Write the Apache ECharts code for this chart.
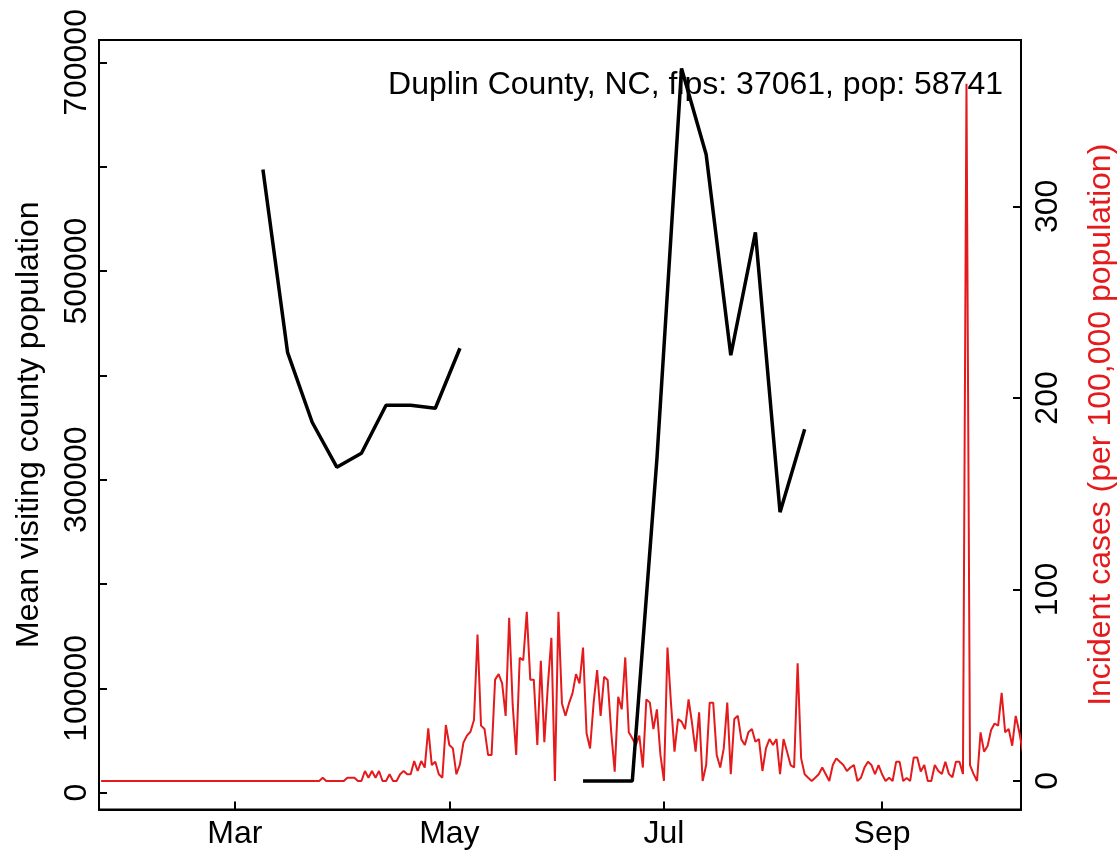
<!DOCTYPE html>
<html>
<head>
<meta charset="utf-8">
<script src="https://cdn.jsdelivr.net/npm/echarts@6/dist/echarts.min.js"></script>
<style>
html,body{margin:0;padding:0;background:#ffffff;}
#chart{width:1119px;height:854px;}
</style>
</head>
<body>
<div id="chart"></div>
<script>
// ---------------- data ----------------
const titleText = 'Duplin County, NC, fips: 37061, pop: 58741';
const leftAxisName = 'Mean visiting county population';
const rightAxisName = 'Incident cases (per 100,000 population)';

const xTickDates = ['2020-03-01', '2020-05-01', '2020-07-01', '2020-09-01'];
const xTickLabels = ['Mar', 'May', 'Jul', 'Sep'];

const leftTicks = [0, 100000, 200000, 300000, 400000, 500000, 600000, 700000];
const leftTickLabels = [0, 100000, 300000, 500000, 700000];
const rightTicks = [0, 100, 200, 300];

// weekly mean visiting county population (black)
const visitDates = [
  '2020-03-09', '2020-03-16', '2020-03-23', '2020-03-30', '2020-04-06', '2020-04-13',
  '2020-04-20', '2020-04-27', '2020-05-04', '2020-05-11', '2020-05-18', '2020-05-25',
  '2020-06-01', '2020-06-08', '2020-06-15', '2020-06-22', '2020-06-29', '2020-07-06',
  '2020-07-13', '2020-07-20', '2020-07-27', '2020-08-03', '2020-08-10'
];
const visitValues = [
  597400, 422100, 355100, 312000, 325400, 371400,
  371400, 368500, 426000, null, null, null,
  null, 11200, 11200, 11200, 320000, 694200,
  611800, 419300, 537100, 268900, 348400
];

// daily incident cases per 100,000 (red), one value per day from caseStartDate
const caseStartDate = '2020-01-23';
const caseValues = [
  0,0,0,0,0,0,0,0,0,0, 0,0,0,0,0,0,0,0,0,0,
  0,0,0,0,0,0,0,0,0,0, 0,0,0,0,0,0,0,0,0,0,
  0,0,0,0,0,0,0,0,0,0, 0,0,0,0,0,0,0,0,0,0,
  0,0,0,
  1.7, 0,0,0,0,0,0,
  1.7, 1.7, 1.7, 0, 0,
  5.2, 1.7, 5.2, 1.7, 5.2,
  0, 0, 3.5, 0, 0,
  3.5, 5.2, 3.5, 3.5, 10.4,
  5.2, 10.4, 7, 27.5, 8.3,
  10, 3.5, 1.7, 29.2, 18.8,
  17, 3.5, 8.7, 20, 23.7,
  25.7, 31.8, 76.5, 28.9, 27.1,
  13.6, 13.6, 52.9, 55.8, 51,
  34, 85.2, 39.7, 13.6, 64.3,
  63.1, 88.3, 52.9, 52.9, 18.8,
  62.8, 20.2, 49.7, 74.8, 0,
  88.3, 40.5, 34, 40.5, 45.7,
  55.8, 51, 69.7, 24.9, 17,
  40.5, 57.9, 34, 54.4, 52.7,
  25.7, 4.9, 44, 37.4, 64.5,
  25.4, 22.3, 18.8, 23.7, 7,
  42.6, 40.9, 27.1, 37.4, 13.6,
  0, 69.7, 40.5, 15.3, 32.3,
  31, 27.1, 42.6, 30, 15.3,
  35.8, 0, 8.3, 40.9, 40.9,
  13.6, 7, 17, 40.9, 3.5,
  32.3, 34, 21.7, 18.8, 25.4,
  27.1, 20.5, 21.9, 5.2, 17,
  21.9, 18.8, 21.9, 3.5, 21.9,
  15.3, 8.3, 7, 61.4, 11.8,
  3.5, 1.7, 0, 1.7, 3.5,
  7, 3.5, 0, 8.3, 11.8,
  10, 8.3, 5.2, 7, 8.3,
  0, 1.7, 7, 10, 8.3,
  3.5, 8.3, 3.5, 0, 1.7,
  0, 10, 10, 0, 1.5,
  0, 12.2, 12.2, 4.9, 8.3,
  0, 0, 8.3, 5.2, 3.7,
  10, 3.7, 1.9, 10, 10,
  3.7, 364, 8.3, 3.7, 0,
  25.4, 15.3, 18.3, 26.6, 30,
  28.9, 46, 25.4, 27.1, 18.4,
  34, 25.7, 15.3
];

// ---------------- build ----------------
const DAY = 86400000;
const t0 = Date.parse(caseStartDate);
const caseData = caseValues.map((v, i) => [t0 + i * DAY, v]);
const visitData = visitDates.map((d, i) => [Date.parse(d), visitValues[i]]);
const xTickTimes = xTickDates.map(d => Date.parse(d));

const FONT = "'Liberation Sans', Arial, Helvetica, sans-serif";
const RED = '#e41a1c';
const xMin = Date.parse('2020-01-22') + 0.4 * DAY;
const xMax = Date.parse('2020-01-22') + 262.5 * DAY;

const chart = echarts.init(document.getElementById('chart'), null, {renderer: 'canvas'});
chart.setOption({
  animation: false,
  backgroundColor: '#ffffff',
  textStyle: {fontFamily: FONT},
  title: {
    text: titleText,
    right: 116,
    top: 69,
    padding: 0,
    textStyle: {fontFamily: FONT, fontSize: 32, fontWeight: 'normal', color: '#000'}
  },
  grid: {
    left: 99, right: 98, top: 40, bottom: 44.5,
    containLabel: false,
    outerBoundsMode: 'none',
    show: true, borderColor: '#000', borderWidth: 2, backgroundColor: 'transparent'
  },
  xAxis: {
    type: 'value',
    min: xMin, max: xMax,
    axisLine: {show: true, onZero: false, lineStyle: {color: '#000', width: 2}},
    axisTick: {show: true, inside: true, length: 8, lineStyle: {color: '#000', width: 2}, customValues: xTickTimes},
    axisLabel: {
      show: true, customValues: xTickTimes, margin: 9,
      fontSize: 32, color: '#000', fontFamily: FONT,
      formatter: function (v) {
        const k = xTickTimes.indexOf(v);
        return k >= 0 ? xTickLabels[k] : '';
      }
    },
    splitLine: {show: false},
    minorTick: {show: false}
  },
  yAxis: [
    {
      type: 'value', position: 'left',
      min: -16100, max: 721500,
      axisLine: {show: true, onZero: false, lineStyle: {color: '#000', width: 2}},
      axisTick: {show: true, inside: true, length: 8, lineStyle: {color: '#000', width: 2}, customValues: leftTicks},
      axisLabel: {
        show: true, customValues: leftTickLabels, rotate: 90, margin: 6,
        fontSize: 32, color: '#000', fontFamily: FONT,
        formatter: function (v) { return String(v); }
      },
      splitLine: {show: false},
      name: leftAxisName, nameLocation: 'middle', nameGap: 54, nameRotate: 90, nameMoveOverlap: false,
      nameTextStyle: {fontSize: 32, color: '#000', fontFamily: FONT}
    },
    {
      type: 'value', position: 'right',
      min: -14.9, max: 386.9,
      axisLine: {show: true, onZero: false, lineStyle: {color: '#000', width: 2}},
      axisTick: {show: true, inside: true, length: 8, lineStyle: {color: '#000', width: 2}, customValues: rightTicks},
      axisLabel: {
        show: true, customValues: rightTicks, rotate: 90, margin: 11,
        fontSize: 32, color: '#000', fontFamily: FONT,
        formatter: function (v) { return String(v); }
      },
      splitLine: {show: false},
      name: rightAxisName, nameLocation: 'middle', nameGap: 64, nameRotate: 90, nameMoveOverlap: false,
      nameTextStyle: {fontSize: 32, color: RED, fontFamily: FONT}
    }
  ],
  series: [
    {
      name: 'cases', type: 'line', yAxisIndex: 1, data: caseData,
      showSymbol: false, symbol: 'none', clip: true, z: 2,
      lineStyle: {color: RED, width: 2},
      itemStyle: {color: RED}
    },
    {
      name: 'visits', type: 'line', yAxisIndex: 0, data: visitData,
      showSymbol: false, symbol: 'none', connectNulls: false, clip: true, z: 3,
      lineStyle: {color: '#000', width: 3.5},
      itemStyle: {color: '#000'}
    }
  ]
});
</script>
</body>
</html>
